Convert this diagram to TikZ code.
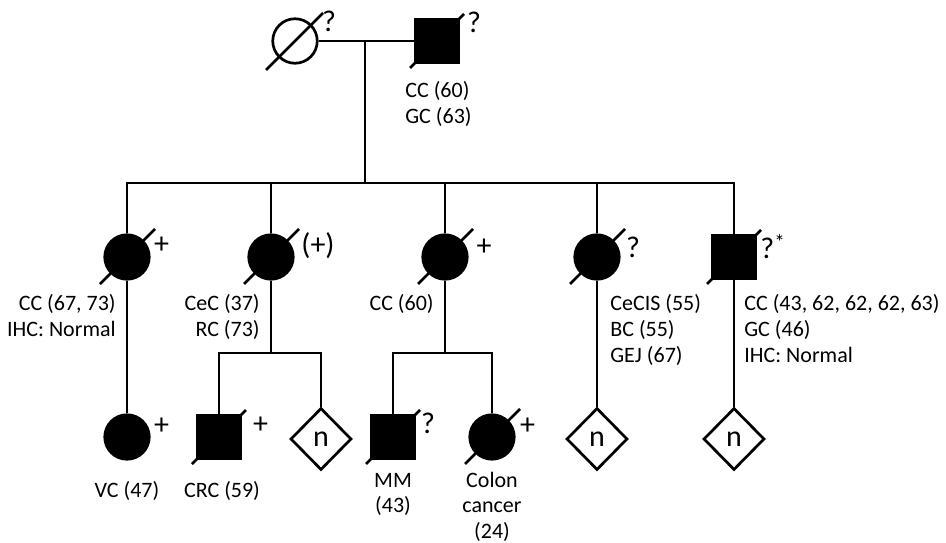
\documentclass[tikz,border=0pt]{standalone}
\usepackage{fontspec}
\setmainfont{Carlito}
\usetikzlibrary{shapes.geometric}
\begin{document}
\begin{tikzpicture}[x=1pt,y=-1pt,
  line width=2.7pt,
  fem/.style={circle,draw,inner sep=0pt,minimum size=44.5pt},
  mal/.style={rectangle,draw,inner sep=0pt,minimum size=43.5pt},
  aff/.style={fill=black},
  unk/.style={diamond,draw,fill=white,inner sep=0pt,minimum width=61pt,minimum height=62pt,font=\fontsize{30}{30}\selectfont},
  sym/.style={inner sep=0pt,font=\fontsize{30}{30}\selectfont},
  lab/.style={inner sep=0pt,font=\fontsize{22}{26}\selectfont},
  slash/.style={line width=2.5pt}]
\useasboundingbox (0,0) rectangle (946,543);

% generation I
\node[fem] (f0) at (295,41) {};
\node[mal,aff] (m0) at (437,41) {};
\draw[slash] (f0.center) ++(-29,29) -- ++(57,-57);
\draw[slash] (m0.center) ++(-27,27) -- ++(54,-54);
\node[sym] (qf0) at (329,21) {?};
\node[sym] (qm0) at (474,22) {?};
\node[lab,anchor=base west] (lm0) at (404,97.5) {\begin{tabular}[t]{@{}l@{}}CC (60)\\GC (63)\end{tabular}};
\draw (f0.east) -- (m0.west);
\coordinate (t0) at (365,41);
\coordinate (s1) at (365,183);
\draw (t0) -- (s1);

% generation II
\node[fem,aff] (g1) at (127,257) {};
\node[fem,aff] (g2) at (271,257) {};
\node[fem,aff] (g3) at (445,257) {};
\node[fem,aff] (g4) at (597,257) {};
\node[mal,aff] (g5) at (734,257) {};
\foreach \n in {g1,g2,g3,g4}{\draw[slash] (\n.center) ++(-27,27) -- ++(55,-55);}
\draw[slash] (g5.center) ++(-27,27) -- ++(54,-54);
\draw (g1.north) |- (s1) -| (g5.north);
\draw (g2.north) -- (g2.north |- s1);
\draw (g3.north) -- (g3.north |- s1);
\draw (g4.north) -- (g4.north |- s1);
\node[sym] (p1) at (161.5,245) {+};
\node[sym] (p2) at (318,246) {(+)};
\node[sym] (p3) at (484,247) {+};
\node[sym] (q4) at (633,247) {?};
\node[sym,anchor=west] (q5) at (759,247) {?\textsuperscript{*}};
\node[lab,anchor=base east] (l1) at (117,310) {\begin{tabular}[t]{@{}r@{}}CC (67, 73)\\IHC: Normal\end{tabular}};
\node[lab,anchor=base east] (l2) at (261,310) {\begin{tabular}[t]{@{}r@{}}CeC (37)\\RC (73)\end{tabular}};
\node[lab,anchor=base east] (l3) at (435,310) {CC (60)};
\node[lab,anchor=base west] (l4) at (609,310) {\begin{tabular}[t]{@{}l@{}}CeCIS (55)\\BC (55)\\GEJ (67)\end{tabular}};
\node[lab,anchor=base west] (l5) at (743,310) {\begin{tabular}[t]{@{}l@{}}CC (43, 62, 62, 62, 63)\\GC (46)\\IHC: Normal\end{tabular}};

% generation III
\node[fem,aff] (h1) at (127,437) {};
\node[mal,aff] (h2) at (219,437) {};
\node[unk] (h3) at (321,439) {n};
\node[mal,aff] (h4) at (393,437) {};
\node[fem,aff] (h5) at (492,437) {};
\node[unk] (h6) at (597,439) {n};
\node[unk] (h7) at (734,439) {n};
\draw[slash] (h2.center) ++(-27,27) -- ++(54,-54);
\draw[slash] (h4.center) ++(-27,27) -- ++(54,-54);
\draw[slash] (h5.center) ++(-27,27) -- ++(55,-55);
\coordinate (s2) at (271,353);
\coordinate (s3) at (445,353);
\draw (g1.south) -- (h1.north);
\draw (g2.south) -- (s2);
\draw (h2.north) |- (s2) -| (h3.north);
\draw (g3.south) -- (s3);
\draw (h4.north) |- (s3) -| (h5.north);
\draw (g4.south) -- (h6.north);
\draw (g5.south) -- (h7.north);
\node[sym] (p6) at (161.5,426) {+};
\node[sym] (p7) at (260.5,425) {+};
\node[sym] (q8) at (428,423) {?};
\node[sym] (p9) at (527.5,426) {+};
\node[lab,anchor=base] (l6) at (127,497) {VC (47)};
\node[lab,anchor=base] (l7) at (222,497) {CRC (59)};
\node[lab,anchor=base,font=\fontsize{22}{25.5}\selectfont] (l8) at (393,487) {\begin{tabular}[t]{@{}c@{}}MM\\(43)\end{tabular}};
\node[lab,anchor=base,font=\fontsize{22}{25.5}\selectfont] (l9) at (492,487) {\begin{tabular}[t]{@{}c@{}}Colon\\cancer\\(24)\end{tabular}};
\end{tikzpicture}
\end{document}
